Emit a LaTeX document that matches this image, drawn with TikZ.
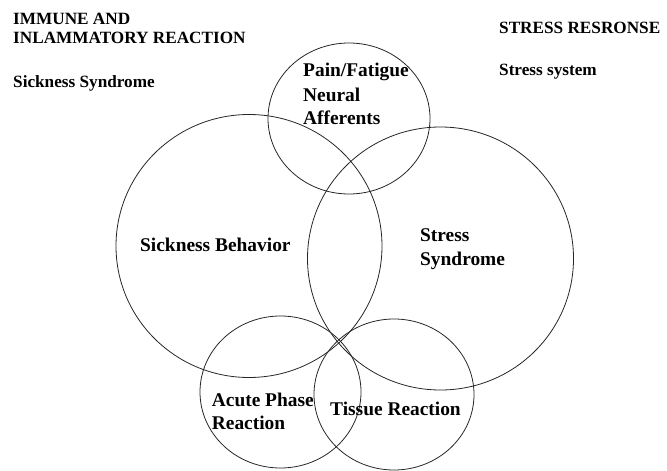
\documentclass[tikz,border=0pt]{standalone}
\usepackage{fontspec}
\setmainfont{Liberation Serif}
\begin{document}
\begin{tikzpicture}[x=1pt,y=-1pt,
  ring/.style={draw=black!85, line width=0.8pt},
  hdr/.style={font=\fontsize{17.2}{20}\selectfont\bfseries, anchor=base west, inner sep=0pt},
  lbl/.style={font=\fontsize{19.4}{23}\selectfont\bfseries, anchor=base west, inner sep=0pt}]
\useasboundingbox (0,0) rectangle (667,471);
% circles
\draw[ring] (249,246) ellipse [x radius=133, y radius=131.5];
\draw[ring] (440.5,258.5) ellipse [x radius=133, y radius=131.5];
\draw[ring] (349,118.5) ellipse [x radius=81, y radius=75.5];
\draw[ring] (280.5,392) ellipse [x radius=80.5, y radius=76];
\draw[ring] (394,394.5) ellipse [x radius=80, y radius=75.5];
% headers
\node[hdr] (h1) at (13,24) {IMMUNE AND};
\node[hdr] (h2) at (13,43.5) {INLAMMATORY REACTION};
\node[hdr] (h3) at (13,87) {Sickness Syndrome};
\node[hdr] (h4) at (499,33.3) {STRESS RESRONSE};
\node[hdr] (h5) at (499,75) {Stress system};
% circle labels
\node[lbl] (p1) at (303,76.7) {Pain/Fatigue};
\node[lbl] (p2) at (303,101.2) {Neural};
\node[lbl] (p3) at (303,124.3) {Afferents};
\node[lbl] (sb) at (140,251.7) {Sickness Behavior};
\node[lbl] (s1) at (420,241.7) {Stress};
\node[lbl] (s2) at (420,265) {Syndrome};
\node[lbl] (a1) at (211.7,406.7) {Acute Phase};
\node[lbl] (a2) at (211.7,429.3) {Reaction};
\node[lbl] (tr) at (330,415.5) {Tissue Reaction};
\end{tikzpicture}
\end{document}
